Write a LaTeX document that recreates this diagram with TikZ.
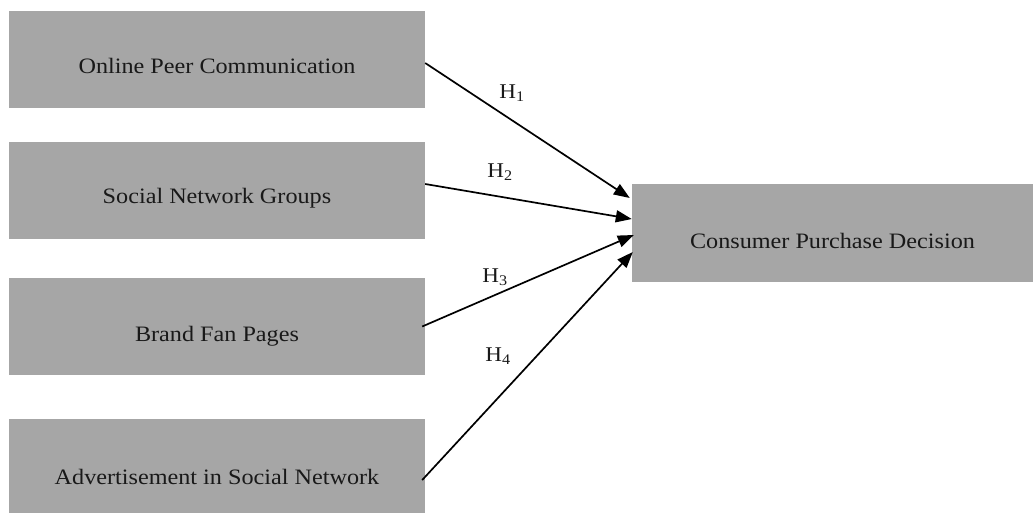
\documentclass[tikz,border=0pt]{standalone}
\usepackage{fontspec}
\setmainfont{Liberation Serif}[FakeStretch=1.1]
\usetikzlibrary{arrows.meta}
\definecolor{boxgray}{RGB}{166,166,166}
\definecolor{inkgray}{RGB}{25,25,25}
\begin{document}
\begin{tikzpicture}[x=1pt,y=-1pt,
  box/.style={fill=boxgray, draw=none, inner sep=0pt, minimum width=416pt, minimum height=97pt},
  txt/.style={inner sep=0pt, text=inkgray, font=\fontsize{22}{25}\selectfont},
  hyp/.style={inner sep=0pt, text=inkgray, font=\fontsize{21}{24}\selectfont},
  link/.style={line width=1.7pt, -{Triangle[length=16pt,width=12pt]}}]
\useasboundingbox (0,0) rectangle (1034,512);

% predictor boxes
\node[box] (b1) at (217,59) {};
\node[box] (b2) at (217,190.5) {};
\node[box] (b3) at (217,326.5) {};
\node[box] (b4) at (217,467.5) {};
% outcome box
\node[box, minimum width=401pt, minimum height=98pt] (c) at (832.5,233) {};

\node[txt] (t1) at ([yshift=-7pt]b1.center) {Online Peer Communication};
\node[txt] (t2) at ([yshift=-8pt]b2.center) {Social Network Groups};
\node[txt] (t3) at ([yshift=-10pt]b3.center) {Brand Fan Pages};
\node[txt] (t4) at ([yshift=-9pt]b4.center) {Advertisement in Social Network};
\node[txt] (tc) at ([yshift=-8pt]c.center) {Consumer Purchase Decision};

% hypothesised paths
\draw[link] ([yshift=-4pt]b1.east) -- ([xshift=-2pt,yshift=35pt]c.west);
\draw[link] ([yshift=6.5pt]b2.east) -- ([yshift=14pt]c.west);
\draw[link] ([xshift=-3pt]b3.east) -- ([xshift=2pt,yshift=-2pt]c.west);
\draw[link] ([xshift=-3pt,yshift=-12.5pt]b4.east) -- ([xshift=1pt,yshift=-19pt]c.west);

\node[hyp] (h1) at (512,93) {H\textsubscript{1}};
\node[hyp] (h2) at (500,172) {H\textsubscript{2}};
\node[hyp] (h3) at (495,277) {H\textsubscript{3}};
\node[hyp] (h4) at (498,356) {H\textsubscript{4}};
\end{tikzpicture}
\end{document}
